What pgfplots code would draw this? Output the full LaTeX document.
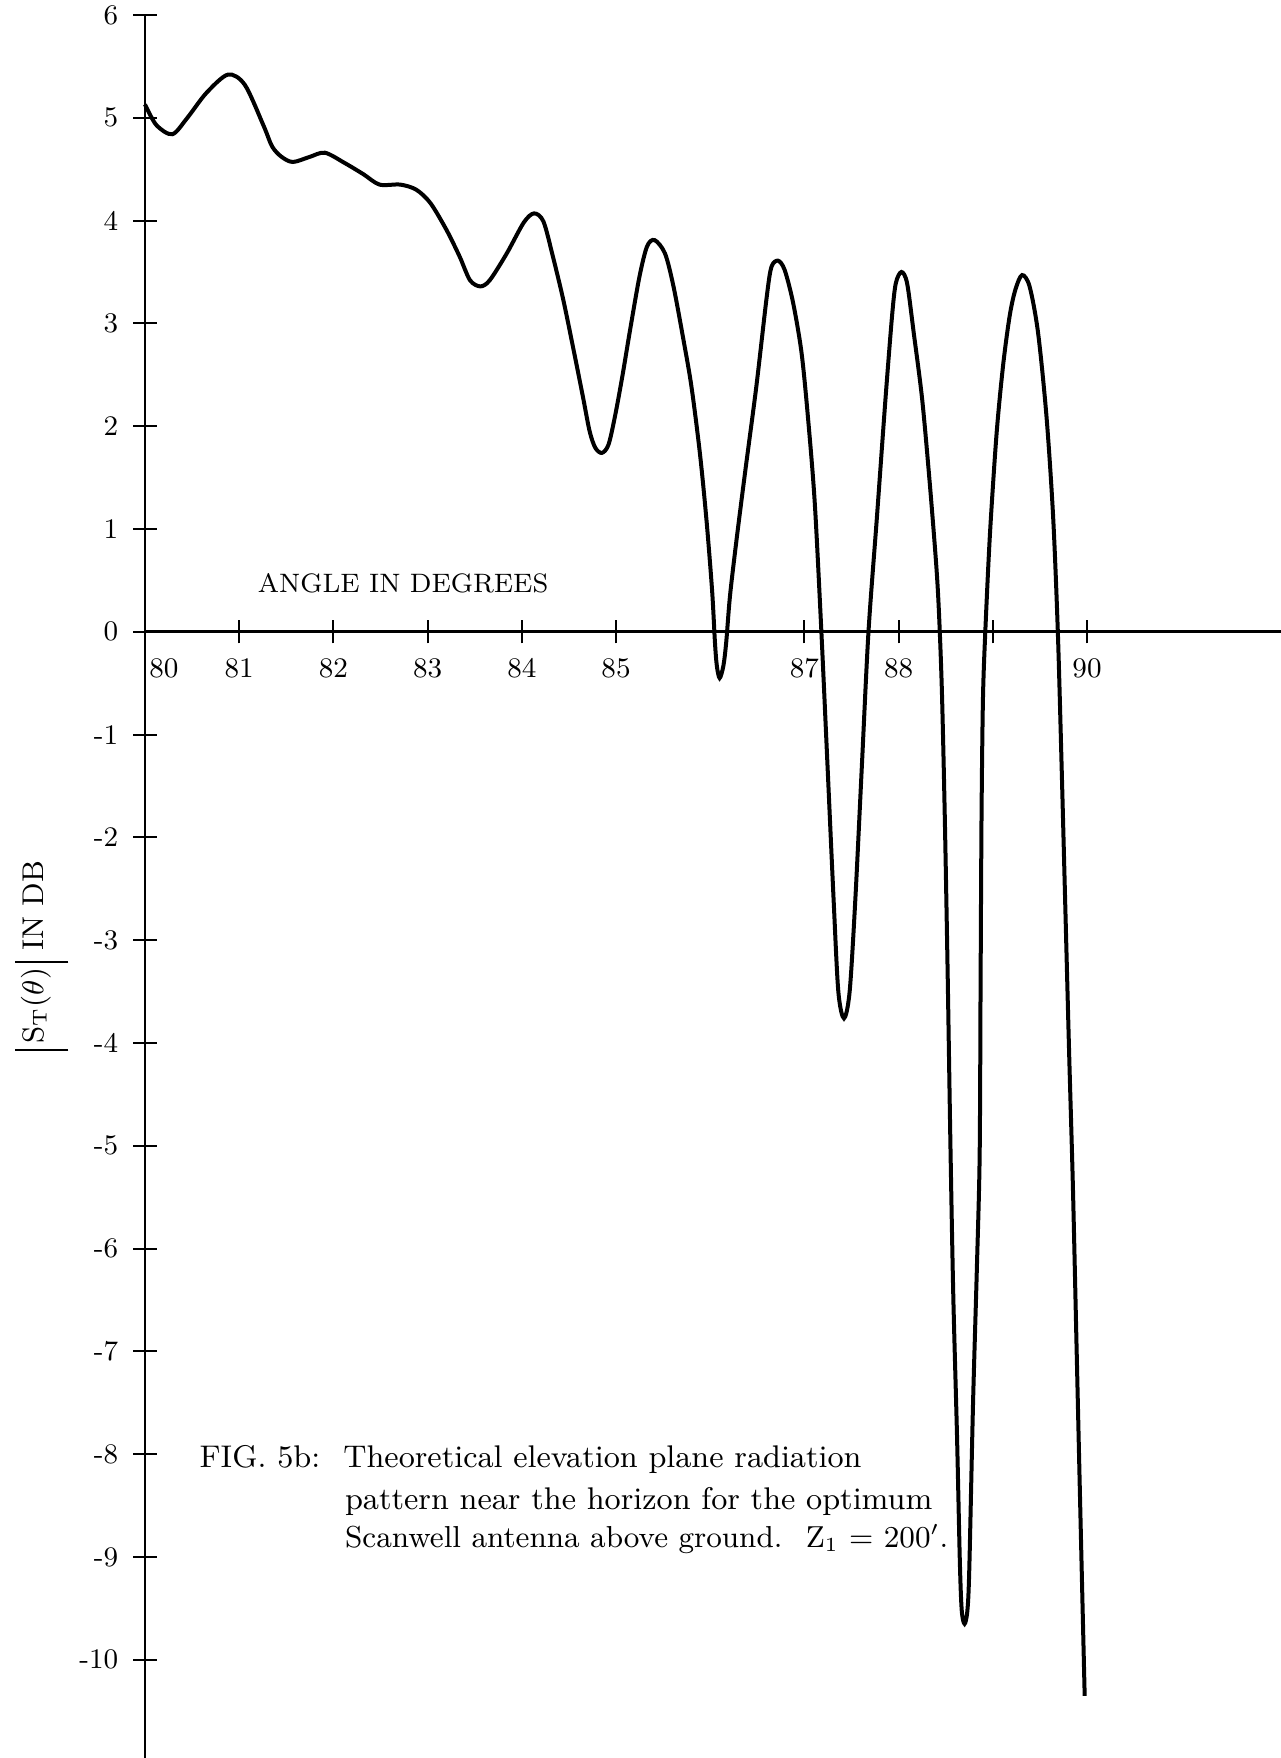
\documentclass[border=0pt]{standalone}
\usepackage{pgfplots}
\pgfplotsset{compat=1.18}
\usetikzlibrary{calc}
\begin{document}
\begin{tikzpicture}
\begin{axis}[
  scale only axis,
  width=340.8pt, height=522.9pt,
  xmin=80, xmax=92.059, ymin=-10.955, ymax=6,
  axis x line=middle, axis y line=left,
  x axis line style={line width=0.9pt,-},
  y axis line style={line width=0.45pt,-},
  hide obscured x ticks=false,
  hide obscured y ticks=false,
  xtick={81,82,83,84,85,87,88,89,90},
  xticklabels={81,82,83,84,85,87,88,,90},
  extra x ticks={80}, extra x tick labels={80},
  extra x tick style={xticklabel style={xshift=5.7pt}},
  ytick={-10,-9,-8,-7,-6,-5,-4,-3,-2,-1,0,1,2,3,4,5,6},
  yticklabels={-10,-9,-8,-7,-6,-5,-4,-3,-2,-1,0,1,2,3,4,5,6},
  tick align=center,
  major tick length=7pt,
  tick style={line width=0.6pt, black},
  ticklabel style={font=\fontsize{8.5}{10}\selectfont},
  xticklabel style={yshift=-1pt},
  yticklabel style={xshift=-1pt},
  clip=false,
]
\addplot[line width=1.2pt, smooth, tension=0.5, black] coordinates {
(80.00,5.13) (80.12,4.93) (80.29,4.84) (80.45,5.00) (80.65,5.24) (80.88,5.42)
(81.06,5.32) (81.26,4.92) (81.35,4.72) (81.45,4.62) (81.57,4.57) (81.75,4.62)
(81.91,4.66) (82.12,4.56) (82.32,4.45) (82.49,4.35) (82.71,4.35) (82.88,4.30)
(83.03,4.17) (83.20,3.91) (83.34,3.65) (83.45,3.42) (83.56,3.36) (83.66,3.42)
(83.84,3.68) (84.02,3.98) (84.13,4.07) (84.23,3.99) (84.33,3.65) (84.44,3.23)
(84.55,2.74) (84.65,2.28) (84.72,1.95) (84.78,1.79) (84.85,1.74) (84.92,1.82)
(84.99,2.10) (85.07,2.50) (85.15,2.94) (85.25,3.46) (85.33,3.75) (85.41,3.81)
(85.52,3.68) (85.61,3.36) (85.71,2.87) (85.80,2.39) (85.89,1.74) (85.96,1.09)
(86.02,0.40) (86.05,-0.10) (86.07,-0.33) (86.10,-0.45) (86.14,-0.33) (86.17,-0.10)
(86.21,0.35) (86.28,0.90) (86.37,1.55) (86.49,2.39) (86.60,3.26) (86.65,3.55)
(86.72,3.61) (86.79,3.52) (86.88,3.20) (86.97,2.71) (87.04,2.06) (87.11,1.25)
(87.18,0.00) (87.245,-1.30) (87.31,-2.61) (87.36,-3.50) (87.42,-3.76) (87.48,-3.50)
(87.54,-2.61) (87.61,-1.30) (87.68,0.00) (87.77,1.12) (87.86,2.26) (87.93,3.07)
(87.97,3.39) (88.03,3.50) (88.09,3.39) (88.16,2.91) (88.25,2.26) (88.33,1.45)
(88.40,0.64) (88.43,0.15) (88.46,-0.60) (88.49,-1.80) (88.52,-3.30) (88.55,-5.00)
(88.58,-6.45) (88.62,-7.83) (88.65,-9.05) (88.67,-9.52) (88.70,-9.65) (88.73,-9.52)
(88.75,-9.12) (88.79,-7.50) (88.83,-6.21) (88.86,-5.10) (88.87,-3.42) (88.88,-1.80)
(88.895,-0.66) (88.92,0.00) (88.97,0.96) (89.04,1.93) (89.11,2.60) (89.18,3.08)
(89.24,3.33) (89.31,3.47) (89.39,3.36) (89.48,2.91) (89.57,2.09) (89.64,1.12)
(89.69,0.00) (89.73,-1.30) (89.77,-2.70) (89.81,-4.10) (89.85,-5.40) (89.89,-7.00)
(89.93,-8.60) (89.975,-10.35)
};
\node[anchor=base, font=\fontsize{8}{9.6}\selectfont] at (axis cs:82.74,0.38) {ANGLE IN DEGREES};
\node[rotate=90, anchor=base, inner sep=0pt, font=\fontsize{9}{10.5}\selectfont] at (axis cs:78.92,-3.15) {$\rule[-7.5pt]{0.6pt}{16pt}\,\mathrm{S}_{\mathrm{T}}(\theta)\,\rule[-7.5pt]{0.6pt}{16pt}$ IN DB};
\node[anchor=base west, inner sep=0pt, font=\fontsize{9.4}{11}\selectfont] at (axis cs:80.573,-8.13) {FIG. 5b:};
\node[anchor=base west, inner sep=0pt, font=\fontsize{9.4}{11}\selectfont] at (axis cs:82.098,-8.13) {Theoretical elevation plane radiation};
\node[anchor=base west, inner sep=0pt, font=\fontsize{9.4}{11}\selectfont] at (axis cs:82.117,-8.54) {pattern near the horizon for the optimum};
\node[anchor=base west, inner sep=0pt, font=\fontsize{9.1}{11}\selectfont] at (axis cs:82.117,-8.91) {Scanwell antenna above ground.\hspace{7pt}Z$_1$ = 200$'$.};
\end{axis}
\pgfresetboundingbox
\path ($(current axis.south west)+(-43.5pt,0pt)$) rectangle ($(current axis.north east)+(0pt,4.5pt)$);
\end{tikzpicture}
\end{document}
